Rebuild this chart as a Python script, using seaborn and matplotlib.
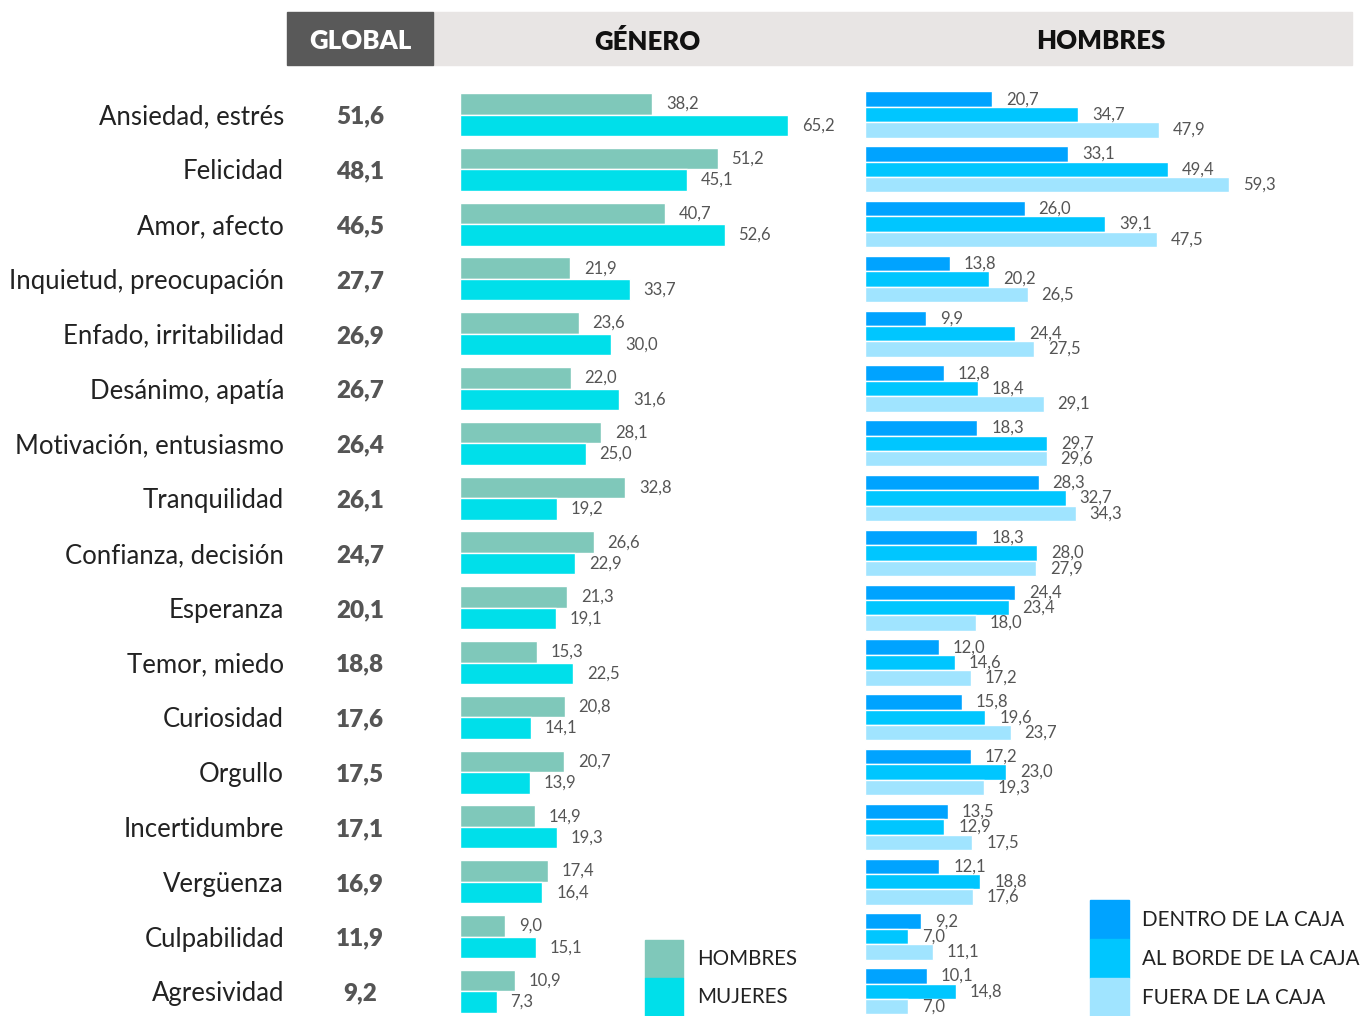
import pandas as pd
import seaborn as sns
import matplotlib.pyplot as plt
from matplotlib.patches import Rectangle, Patch
from matplotlib.transforms import blended_transform_factory

emociones = ["Ansiedad, estrés", "Felicidad", "Amor, afecto", "Inquietud, preocupación",
             "Enfado, irritabilidad", "Desánimo, apatía", "Motivación, entusiasmo",
             "Tranquilidad", "Confianza, decisión", "Esperanza", "Temor, miedo",
             "Curiosidad", "Orgullo", "Incertidumbre", "Vergüenza", "Culpabilidad",
             "Agresividad"]
global_vals = [51.6, 48.1, 46.5, 27.7, 26.9, 26.7, 26.4, 26.1, 24.7, 20.1, 18.8,
               17.6, 17.5, 17.1, 16.9, 11.9, 9.2]
hombres = [38.2, 51.2, 40.7, 21.9, 23.6, 22.0, 28.1, 32.8, 26.6, 21.3, 15.3,
           20.8, 20.7, 14.9, 17.4, 9.0, 10.9]
mujeres = [65.2, 45.1, 52.6, 33.7, 30.0, 31.6, 25.0, 19.2, 22.9, 19.1, 22.5,
           14.1, 13.9, 19.3, 16.4, 15.1, 7.3]
dentro = [20.7, 33.1, 26.0, 13.8, 9.9, 12.8, 18.3, 28.3, 18.3, 24.4, 12.0,
          15.8, 17.2, 13.5, 12.1, 9.2, 10.1]
borde = [34.7, 49.4, 39.1, 20.2, 24.4, 18.4, 29.7, 32.7, 28.0, 23.4, 14.6,
         19.6, 23.0, 12.9, 18.8, 7.0, 14.8]
fuera = [47.9, 59.3, 47.5, 26.5, 27.5, 29.1, 29.6, 34.3, 27.9, 18.0, 17.2,
         23.7, 19.3, 17.5, 17.6, 11.1, 7.0]

genero_grupos = ["HOMBRES", "MUJERES"]
caja_grupos = ["DENTRO DE LA CAJA", "AL BORDE DE LA CAJA", "FUERA DE LA CAJA"]
genero_colores = ["#7FC8BA", "#00DFEA"]
caja_colores = ["#00A3FF", "#00C6FF", "#A0E4FF"]

df_gen = pd.DataFrame({"emocion": emociones * 2,
                       "valor": hombres + mujeres,
                       "grupo": ["HOMBRES"] * 17 + ["MUJERES"] * 17})
df_caja = pd.DataFrame({"emocion": emociones * 3,
                        "valor": dentro + borde + fuera,
                        "grupo": [caja_grupos[0]] * 17 + [caja_grupos[1]] * 17 + [caja_grupos[2]] * 17})

sns.set_theme(style="white")
plt.rcParams["font.family"] = ["Lato", "DejaVu Sans"]

W, H = 1362, 1016
fig = plt.figure(figsize=(W / 100, H / 100), dpi=100)


def fx(px):
    return px / W


def fy(py):
    return 1 - py / H


row = 54.8
top = 87.1
bottom = top + 17 * row
ax_g = fig.add_axes([fx(460), fy(bottom), 400 / W, (bottom - top) / H])
ax_h = fig.add_axes([fx(865), fy(bottom), 487 / W, (bottom - top) / H])

sns.barplot(data=df_gen, x="valor", y="emocion", hue="grupo", order=emociones,
            hue_order=genero_grupos, palette=genero_colores, orient="h",
            width=0.785, saturation=1, legend=False, ax=ax_g)
sns.barplot(data=df_caja, x="valor", y="emocion", hue="grupo", order=emociones,
            hue_order=caja_grupos, palette=caja_colores, orient="h",
            width=0.84, saturation=1, legend=False, ax=ax_h)

ax_g.set_xlim(0, 400 / 5.03)
ax_h.set_xlim(0, 487 / 6.14)

def fmt(v):
    return f"{v:.1f}".replace(".", ",")

for ax in (ax_g, ax_h):
    for cont in ax.containers:
        vals = [b.get_width() for b in cont]
        ax.bar_label(cont, labels=[fmt(v) for v in vals], padding=10,
                     fontsize=12, color="#555555")
    ax.set_xlabel("")
    ax.set_ylabel("")
    ax.set_xticks([])
    sns.despine(ax=ax, left=True, bottom=True)

ax_h.set_yticks([])
ax_g.tick_params(axis="y", length=0, pad=176 * 0.72)
for lab in ax_g.get_yticklabels():
    lab.set_fontsize(18.5)
    lab.set_color("#222222")

trans = blended_transform_factory(fig.transFigure, ax_g.transData)
for i, v in enumerate(global_vals):
    ax_g.text(fx(360), i + 0.04, fmt(v), transform=trans, ha="center", va="center",
              fontsize=17.5, fontweight="heavy", color="#555555")

# header band
fig.add_artist(Rectangle((fx(433), fy(65)), (1352 - 433) / W, 53 / H,
                         transform=fig.transFigure, color="#E8E5E4", zorder=0))
fig.add_artist(Rectangle((fx(287), fy(65)), (433 - 287) / W, 53 / H,
                         transform=fig.transFigure, color="#595959", zorder=1))
for xp, txt, col in [(360, "GLOBAL", "white"), (647, "GÉNERO", "#111111"),
                     (1101, "HOMBRES", "#111111")]:
    fig.text(fx(xp), fy(39), txt, ha="center", va="center_baseline", fontsize=18.5,
             fontweight="heavy", color=col)

# legends
fig.legend(handles=[Patch(color=c) for c in genero_colores], labels=genero_grupos,
           loc="upper left", bbox_to_anchor=(fx(645), fy(940)), frameon=False,
           fontsize=14.8, handlelength=1.85, handleheight=2.47, labelspacing=0,
           borderpad=0, borderaxespad=0, handletextpad=0.68, labelcolor="#222222")
fig.legend(handles=[Patch(color=c) for c in caja_colores], labels=caja_grupos,
           loc="upper left", bbox_to_anchor=(fx(1090), fy(900)), frameon=False,
           fontsize=14.8, handlelength=1.9, handleheight=2.54, labelspacing=0,
           borderpad=0, borderaxespad=0, handletextpad=0.63, labelcolor="#222222")

fig.savefig("out.png", dpi=100)
